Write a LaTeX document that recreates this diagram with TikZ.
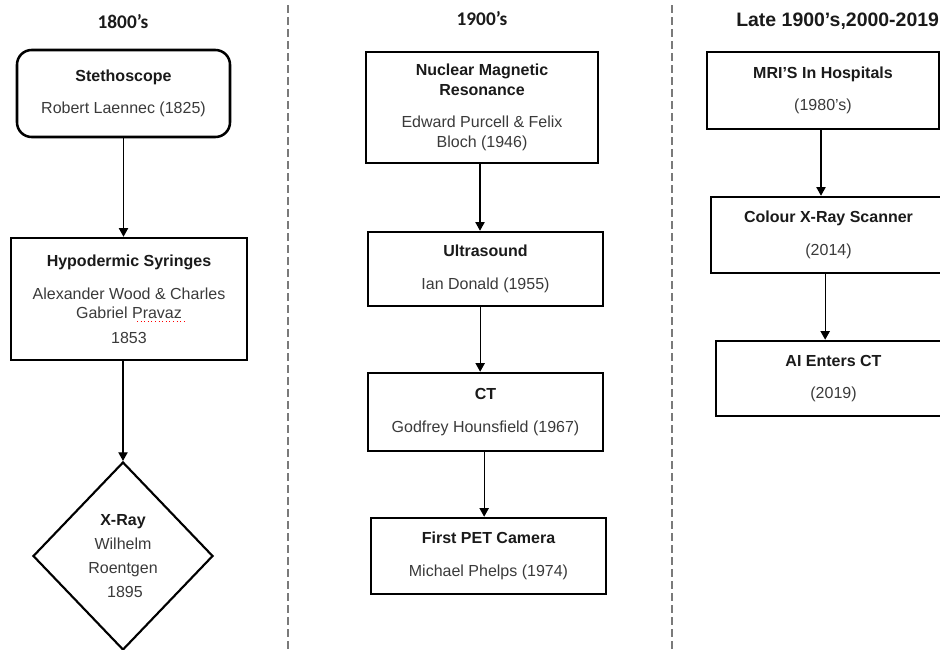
\documentclass[tikz,border=0pt]{standalone}
\usepackage{fontspec}
\setmainfont{Liberation Sans}
\newfontfamily\calib{Carlito}
\usetikzlibrary{arrows.meta,shapes.geometric}
\definecolor{bodygray}{HTML}{3A3A3A}
\definecolor{titleblk}{HTML}{1A1A1A}
\definecolor{divgray}{HTML}{7A7A7A}
\newcommand\ttl[1]{{\bfseries\color{titleblk}#1}}
\begin{document}
\begin{tikzpicture}[x=0.75pt,y=-0.75pt,
  box/.style={draw=black, line width=1.9pt, rectangle, align=center, inner sep=0pt,
    text=bodygray, font=\fontsize{12}{14.5}\selectfont},
  rbox/.style={box, rounded corners=11pt},
  dbox/.style={box, diamond, line width=1.6pt},
  arr/.style={-{Triangle[length=6.5pt,width=7pt]}, line width=0.9pt, draw=black},
  divider/.style={draw=divgray, line width=1.1pt, dash pattern=on 6pt off 3pt},
  headc/.style={font=\calib\bfseries\fontsize{14.5}{17}\selectfont, text=titleblk, inner sep=0pt},
  heada/.style={font=\bfseries\fontsize{14.6}{18}\selectfont, text=titleblk, inner sep=0pt}
]
\useasboundingbox (0,0) rectangle (940,650);
\clip (0,0) rectangle (940,650);

% dividers
\coordinate (d1t) at (288,5);
\coordinate (d1b) at (288,650);
\coordinate (d2t) at (672,5);
\coordinate (d2b) at (672,650);
\draw[divider] (d1t) -- (d1b);
\draw[divider] (d2t) -- (d2b);

% headings
\node[headc] (h1) at (123,22) {1800’s};
\node[headc] (h2) at (482,19) {1900’s};
\node[heada, anchor=base west] (h3) at (736,26) {Late 1900’s,2000-2019};

% column 1
\node[rbox, minimum width={213*0.75pt}, minimum height={87*0.75pt}] (steth) at (123.5,93.5)
  {\ttl{Stethoscope}\\[10pt]Robert Laennec (1825)};
\node[box, minimum width={236*0.75pt}, minimum height={122*0.75pt}] (hypo) at (129,299)
  {\ttl{Hypodermic Syringes}\\[10pt]Alexander Wood \& Charles\\Gabriel Pravaz\\[4pt]1853};
\node[dbox, minimum width={180*0.75pt}, minimum height={188*0.75pt}] (xray) at (123,556)
  {\ttl{X-Ray}\\[3.5pt]Wilhelm\\[3.5pt]Roentgen\\[3.5pt]\hspace{3pt}1895};
\coordinate (sq1) at (137,321);
\coordinate (sq2) at (187,321);
\draw[red, line width=0.7pt, dotted] (sq1) -- (sq2);

\draw[arr] (steth.south) -- (steth.south |- hypo.north);
\draw[arr] (hypo.south -| xray.north) -- (xray.north);

% column 2
\node[box, minimum width={232*0.75pt}, minimum height={111*0.75pt}] (nmr) at (482,107.5)
  {\ttl{Nuclear Magnetic}\\\ttl{Resonance}\\[10pt]Edward Purcell \& Felix\\Bloch (1946)};
\node[box, minimum width={235*0.75pt}, minimum height={74*0.75pt}] (us) at (485.5,269)
  {\ttl{Ultrasound}\\[10pt]Ian Donald (1955)};
\node[box, minimum width={235*0.75pt}, minimum height={78*0.75pt}] (ct) at (485.5,412)
  {\ttl{CT}\\[10pt]Godfrey Hounsfield (1967)};
\node[box, minimum width={235*0.75pt}, minimum height={76*0.75pt}] (pet) at (488.5,556)
  {\ttl{First PET Camera}\\[10pt]Michael Phelps (1974)};

\draw[arr] ([xshift=-1.5pt]nmr.south) -- ([xshift=-1.5pt]nmr.south |- us.north);
\draw[arr] ([xshift=-4pt]us.south) -- ([xshift=-4pt]us.south |- ct.north);
\draw[arr] ([xshift=-1pt]ct.south) -- ([xshift=-1pt]ct.south |- pet.north);

% column 3
\node[box, minimum width={232*0.75pt}, minimum height={77*0.75pt}] (mri) at (823,90.5)
  {\ttl{MRI’S In Hospitals}\\[10pt](1980’s)};
\node[box, minimum width={235*0.75pt}, minimum height={76*0.75pt}] (col) at (828.5,235)
  {\ttl{Colour X-Ray Scanner}\\[10pt](2014)};
\node[box, minimum width={235*0.75pt}, minimum height={75*0.75pt}] (ai) at (833.5,378.5)
  {\ttl{AI Enters CT}\\[10pt](2019)};

\draw[arr] ([xshift=-1.5pt]mri.south) -- ([xshift=-1.5pt]mri.south |- col.north);
\draw[arr] ([xshift=-2.5pt]col.south) -- ([xshift=-2.5pt]col.south |- ai.north);
\end{tikzpicture}
\end{document}
